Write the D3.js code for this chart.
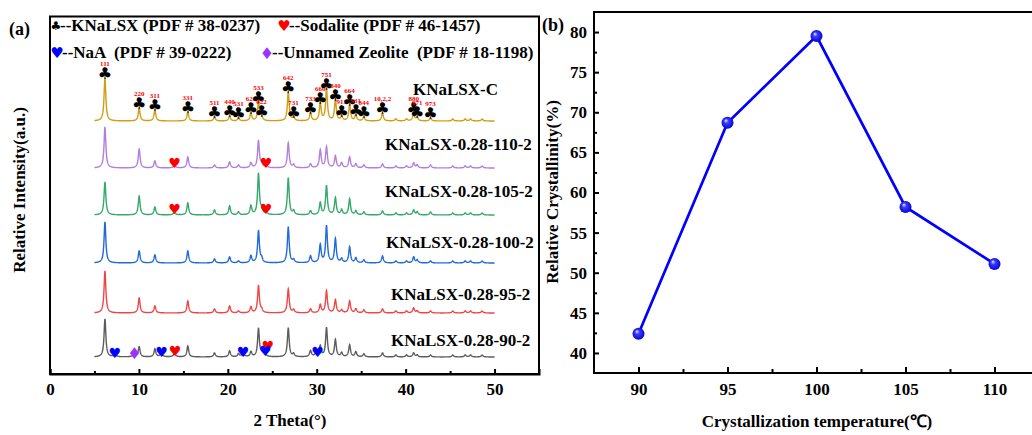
<!DOCTYPE html>
<html>
<head>
<meta charset="utf-8">
<script src="https://cdn.jsdelivr.net/npm/d3@7"></script>
<style>
body { margin: 0; background: #fff; }
text { font-family: "Liberation Serif", "Times New Roman", serif; font-weight: bold; }
.sym { font-family: "DejaVu Sans", sans-serif; font-weight: normal; }
</style>
</head>
<body>
<svg width="1032" height="435"></svg>
<script>
// ---- panel (a) data : XRD patterns ----
var hkl = ["111","220","311","331","511","440","531","620","533","622","642","731",
           "733","660","751","840","911","664","931","844","10,2,2","880","971","973"];
var peakTheta = [6.18,10.03,11.8,15.5,18.5,20.2,21.2,22.6,23.45,23.8,26.8,27.4,
                 29.3,30.4,31.1,32.1,32.8,33.7,34.4,35.3,37.4,40.9,41.3,42.8];
var minorTheta = [38.9,40.1,45.3,46.7,47.3,48.6];
var minorHeight = [2,2,2,2,2,2];

var sampleNames = ["KNaLSX-C","KNaLSX-0.28-110-2","KNaLSX-0.28-105-2",
                   "KNaLSX-0.28-100-2","KNaLSX-0.28-95-2","KNaLSX-0.28-90-2"];
var sampleColors = ["#d29d12","#b27fdd","#35a86b","#2069d8","#ee4646","#5c5c5c"];
var baselines = [253, 206, 159, 111, 61, 17];

var hC   = [43,13,11,9,4,5,3,8,19,5,29,4,8,18,32,21,5,16,6,4,8,8,4,3];
var h110 = [41,19,7,11,3,6,3,5,27,4,25,3,4,18,21,12,5,11,4,3,4,5,3,3];
var h105 = [33,19,8,12,5,9,3,9,41,5,37,4,4,12,29,17,5,16,4,3,4,5,3,3];
var h100 = [41,12,8,12,4,6,2,7,32,4,36,3,7,18,37,24,4,16,5,3,7,6,3,2];
var h95  = [42,15,7,12,4,7,2,6,27,3,24,3,4,8,22,13,3,12,4,3,4,5,2,2];
var h90  = [38,10,8,11,4,6,3,5,28,3,29,3,6,10,29,17,4,12,5,3,4,4,2,2];
var heights = [hC, h110, h105, h100, h95, h90];

// impurity peaks [theta, intensity] per sample
var extraPeaks = [[], [[14.0,2],[24.3,2]], [[14.0,2],[24.3,2]], [], [],
                  [[7.3,2],[9.5,3],[12.5,3],[14.0,3],[21.7,3],[24.1,4],[30.0,5]]];

// phase markers [sample index, theta, level above baseline]
var sodaliteMarks = [[1,14.0,5],[1,24.3,5],[2,14.0,6],[2,24.3,6],[5,14.05,6],[5,24.5,11]];
var naaMarks = [[5,7.3,4],[5,12.55,5],[5,21.7,5],[5,24.2,6],[5,30.1,5]];
var zeoliteMarks = [[5,9.5,4]];

// ---- panel (b) data ----
var temps = [90, 95, 100, 105, 110];
var crystallinity = [42.4, 68.7, 79.5, 58.2, 51.1];

var svg = d3.select("svg");

// ================= panel (a) =================
var xA = d3.scaleLinear().domain([0, 55]).range([50, 539]);
var yA = d3.scaleLinear().domain([0, 358]).range([374, 16]);

var gridTheta = d3.range(5, 50.001, 0.02);
var hwhm = 0.12;

function pattern(i) {
    return gridTheta.map(function (t) {
        var v = 0;
        peakTheta.forEach(function (p, k) {
            var u = (t - p) / hwhm;
            v += heights[i][k] / (1 + u * u);
        });
        minorTheta.forEach(function (p, k) {
            var u = (t - p) / hwhm;
            v += minorHeight[k] / (1 + u * u);
        });
        extraPeaks[i].forEach(function (e) {
            var u = (t - e[0]) / 0.18;
            v += e[1] / (1 + u * u);
        });
        return [t, baselines[i] + v];
    });
}

var lineA = d3.line().x(function (d) { return xA(d[0]); }).y(function (d) { return yA(d[1]); });

// where each sample name sits (left x, gap above baseline)
var labelX = [413, 385, 385, 386, 391, 391];
var labelGap = [26, 18, 18, 15, 13, 11];

sampleNames.forEach(function (name, i) {
    svg.append("path").datum(pattern(i))
        .attr("d", lineA)
        .style("fill", "none")
        .style("stroke", sampleColors[i])
        .style("stroke-width", 1.4);
    svg.append("text")
        .attr("x", labelX[i]).attr("y", yA(baselines[i]) - labelGap[i])
        .style("font-size", "17px")
        .text(name);
});

// hkl clubs on KNaLSX-C
peakTheta.forEach(function (p, k) {
    var top = yA(baselines[0] + hC[k]);
    svg.append("text").attr("class", "sym")
        .attr("x", xA(p)).attr("y", top - 5)
        .attr("text-anchor", "middle").attr("dominant-baseline", "central")
        .style("font-size", "16px").style("fill", "#000")
        .text("\u2663");
    svg.append("text")
        .attr("x", xA(p)).attr("y", top - 14)
        .attr("text-anchor", "middle").attr("dominant-baseline", "central")
        .style("font-size", "7px").style("fill", "#ff0000")
        .text(hkl[k]);
});

function marks(list, glyph, color, size) {
    list.forEach(function (m) {
        svg.append("text").attr("class", "sym")
            .attr("x", xA(m[1])).attr("y", yA(baselines[m[0]] + m[2]))
            .attr("text-anchor", "middle").attr("dominant-baseline", "central")
            .style("font-size", size + "px").style("fill", color)
            .text(glyph);
    });
}
marks(sodaliteMarks, "\u2665", "#ff0000", 14);
marks(naaMarks, "\u2665", "#0000ff", 14);
marks(zeoliteMarks, "\u2666", "#9933ff", 16);

// frame + axis
svg.append("rect").attr("x", 50).attr("y", 16.5).attr("width", 489).attr("height", 357.5)
    .style("fill", "none").style("stroke", "#000").style("stroke-width", 2);

var axA = svg.append("g").attr("transform", "translate(0,374)")
    .call(d3.axisBottom(xA).tickValues([0,10,20,30,40,50]).tickSize(-5).tickPadding(9));
svg.append("g").attr("transform", "translate(0,374)")
    .call(d3.axisBottom(xA).tickValues([5,15,25,35,45]).tickSize(-3).tickFormat(""))
    .select(".domain").remove();
axA.selectAll("text").style("font-size", "17px").style("font-family", "Liberation Serif").style("font-weight", "bold");
svg.selectAll(".tick line").style("stroke-width", 2);
axA.select(".domain").style("stroke-width", 2);

svg.append("text").attr("x", 290).attr("y", 426).attr("text-anchor", "middle")
    .style("font-size", "17px").text("2 Theta(\u00b0)");
svg.append("text").attr("transform", "translate(25,190) rotate(-90)").attr("text-anchor", "middle")
    .style("font-size", "17px").text("Relative Intensity(a.u.)");
svg.append("text").attr("x", 9).attr("y", 35).style("font-size", "18px").text("(a)");

// legend
var legend = [
    {g: "\u2663", c: "#000", s: 12, x: 56, y: 26, t: "--KNaLSX (PDF # 38-0237)", tx: 60, ty: 31},
    {g: "\u2665", c: "#ff0000", s: 15, x: 284, y: 26, t: "--Sodalite (PDF # 46-1457)", tx: 289, ty: 31},
    {g: "\u2665", c: "#0000ff", s: 15, x: 57, y: 53, t: "--NaA  (PDF # 39-0222)", tx: 62, ty: 58},
    {g: "\u2666", c: "#9933ff", s: 16, x: 267, y: 53, t: "--Unnamed Zeolite  (PDF # 18-1198)", tx: 272, ty: 58}
];
legend.forEach(function (d) {
    svg.append("text").attr("class", "sym").attr("x", d.x).attr("y", d.y)
        .attr("text-anchor", "middle").attr("dominant-baseline", "central")
        .style("font-size", d.s + "px").style("fill", d.c).text(d.g);
    svg.append("text").attr("x", d.tx).attr("y", d.ty).style("font-size", "17px")
        .style("white-space", "pre").attr("xml:space", "preserve").text(d.t);
});

// ================= panel (b) =================
var xB = d3.scaleLinear().domain([87.5, 112.5]).range([594, 1039]);
var yB = d3.scaleLinear().domain([37.5, 82.5]).range([373, 12]);

var defs = svg.append("defs");
var grad = defs.append("radialGradient").attr("id", "ball")
    .attr("cx", "50%").attr("cy", "50%").attr("r", "55%")
    .attr("fx", "35%").attr("fy", "30%");
grad.append("stop").attr("offset", "0%").attr("stop-color", "#e8e8ff");
grad.append("stop").attr("offset", "35%").attr("stop-color", "#3a3aff");
grad.append("stop").attr("offset", "100%").attr("stop-color", "#0000c8");

var gB = svg.append("g");
gB.append("path").attr("d", "M1040,12H594V373H1040")
    .style("fill", "none").style("stroke", "#000").style("stroke-width", 2);

var axBx = gB.append("g").attr("transform", "translate(0,373)")
    .call(d3.axisBottom(xB).tickValues(temps).tickSize(-6).tickPadding(10));
gB.append("g").attr("transform", "translate(0,373)")
    .call(d3.axisBottom(xB).tickValues([92.5,97.5,102.5,107.5]).tickSize(-4).tickFormat(""))
    .select(".domain").remove();
var axBy = gB.append("g").attr("transform", "translate(594,0)")
    .call(d3.axisLeft(yB).tickValues([40,45,50,55,60,65,70,75,80]).tickSize(-5).tickPadding(7));
gB.append("g").attr("transform", "translate(594,0)")
    .call(d3.axisLeft(yB).tickValues([42.5,47.5,52.5,57.5,62.5,67.5,72.5,77.5]).tickSize(-3).tickFormat(""))
    .select(".domain").remove();
gB.selectAll(".domain").remove();
gB.selectAll(".tick line").style("stroke-width", 2);
gB.selectAll("text").style("font-size", "17px").style("font-family", "Liberation Serif").style("font-weight", "bold");

var lineB = d3.line().x(function (d, i) { return xB(temps[i]); }).y(function (d) { return yB(d); });
gB.append("path").datum(crystallinity).attr("d", lineB)
    .style("fill", "none").style("stroke", "#0000ff").style("stroke-width", 2.7);
gB.selectAll("circle.pt").data(crystallinity).enter().append("circle")
    .attr("class", "pt")
    .attr("cx", function (d, i) { return xB(temps[i]); })
    .attr("cy", function (d) { return yB(d); })
    .attr("r", 6)
    .style("fill", "url(#ball)");

svg.append("text").attr("x", 817).attr("y", 427).attr("text-anchor", "middle")
    .style("font-size", "17px").text("Crystallization temperature(\u2103)");
svg.append("text").attr("transform", "translate(558,192) rotate(-90)").attr("text-anchor", "middle")
    .style("font-size", "17px").text("Relative Crystallinity(%)");
svg.append("text").attr("x", 542).attr("y", 31).style("font-size", "18px").text("(b)");
</script>
</body>
</html>
